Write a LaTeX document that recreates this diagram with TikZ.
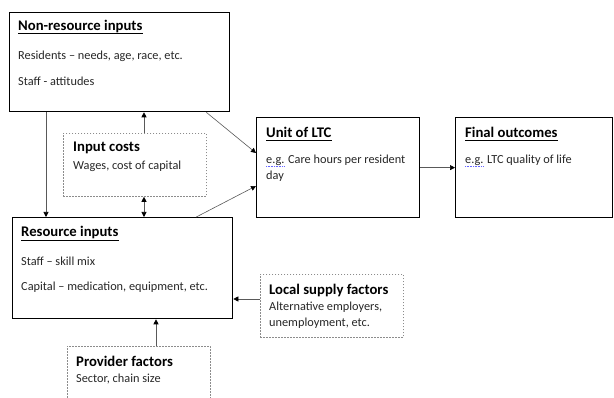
\documentclass[tikz,border=0pt]{standalone}
\usepackage{fontspec}
\setmainfont{Carlito}
\usetikzlibrary{arrows.meta,calc}

\tikzset{
  box/.style={draw=black, line width=1.3pt, anchor=north west, inner sep=0pt},
  dbox/.style={draw=black!45, line width=0.8pt, dash pattern=on 1.6pt off 1.4pt},
  head/.style={anchor=west, inner sep=0pt, font=\fontsize{14.7}{16}\selectfont\bfseries},
  txt/.style={anchor=west, inner sep=0pt, text=black!85, font=\fontsize{12.3}{14}\selectfont},
  link/.style={draw=black!65, line width=0.6pt, -{Triangle[length=5pt,width=5pt,color=black]}},
  dlink/.style={draw=black!65, line width=0.6pt, {Triangle[length=5pt,width=5pt,color=black]}-{Triangle[length=5pt,width=5pt,color=black]}},
  headrule/.style={draw=black, line width=1pt},
  spell/.style={draw=blue!60, line width=0.8pt, dash pattern=on 0.8pt off 0.8pt}
}

\begin{document}
\begin{tikzpicture}[x=1pt, y=-1pt]
\useasboundingbox (0,0) rectangle (614,398);

% solid boxes
\node[box, minimum width=220pt, minimum height=99pt] (nonres) at (9,12) {};
\node[box, minimum width=163pt, minimum height=100pt] (unit) at (256,117) {};
\node[box, minimum width=157pt, minimum height=100pt] (final) at (455,117) {};
\node[box, minimum width=220pt, minimum height=101pt] (res) at (12,217) {};

% dashed boxes
\node[dbox, draw, anchor=north west, inner sep=0pt, minimum width=143pt, minimum height=63pt] (ic) at (63,133) {};
\node[dbox, draw, anchor=north west, inner sep=0pt, minimum width=143pt, minimum height=63pt] (local) at (260,274) {};
\draw[dbox] (67,398) |- (210,346) -- (210,398);
\coordinate (prov) at (156,346);

% texts
\node[head] (nonresH) at (18,27) {Non-resource inputs};
\node[txt] (nonresA) at (18,56) {Residents – needs, age, race, etc.};
\node[txt] (nonresB) at (18,81) {Staff - attitudes};

\node[head] (resH) at (21,233) {Resource inputs};
\node[txt] (resA) at (21,261) {Staff – skill mix};
\node[txt] (resB) at (21,287) {Capital – medication, equipment, etc.};

\node[head] (unitH) at (266,132) {Unit of LTC};
\node[txt] (unitA) at (266,160) {e.g. Care hours per resident};
\node[txt] (unitB) at (266,176) {day};

\node[head] (finalH) at (465,132) {Final outcomes};
\node[txt] (finalA) at (465,160) {e.g. LTC quality of life};

\node[head] (icH) at (73,148) {Input costs};
\node[txt] (icA) at (73,166) {Wages, cost of capital};

\node[head] (localH) at (269,290) {Local supply factors};
\node[txt] (localA) at (269,307) {Alternative employers,};
\node[txt] (localB) at (269,323) {unemployment, etc.};

\node[head] (provH) at (76,361) {Provider factors};
\node[txt] (provA) at (76,379) {Sector, chain size};

% underlined headings of the solid boxes
\foreach \h in {nonresH,resH,unitH,finalH}
  \draw[headrule] ($(\h.base west)+(0,3)$) -- ($(\h.base east)+(0,3)$);

% spelling marks under "e.g."
\draw[spell] ($(unitA.base west)+(0,2.8)$) -- ++(18,0);
\draw[spell] ($(finalA.base west)+(0,2.8)$) -- ++(18,0);

% connectors
\coordinate (a1) at ($(nonres.south west)+(37,0)$);
\draw[link] (a1) -- (a1 |- res.north);

\coordinate (a2) at ($(ic.north west)+(81,0)$);
\draw[link] (a2) -- (a2 |- nonres.south);

\coordinate (a3) at ($(ic.south west)+(81,0)$);
\draw[dlink] (a3) -- (a3 |- res.north);

\draw[link] ($(nonres.south east)+(-24,0)$) -- ($(unit.north west)+(0,36)$);
\draw[link] ($(res.north east)+(-37,0)$) -- ($(unit.north west)+(0,69)$);

\draw[link] (unit.east) -- (final.west);

\coordinate (a4) at ($(local.north west)+(0,25)$);
\draw[link] (a4) -- (a4 -| res.east);

\draw[link] (prov) -- (prov |- res.south);
\end{tikzpicture}
\end{document}
